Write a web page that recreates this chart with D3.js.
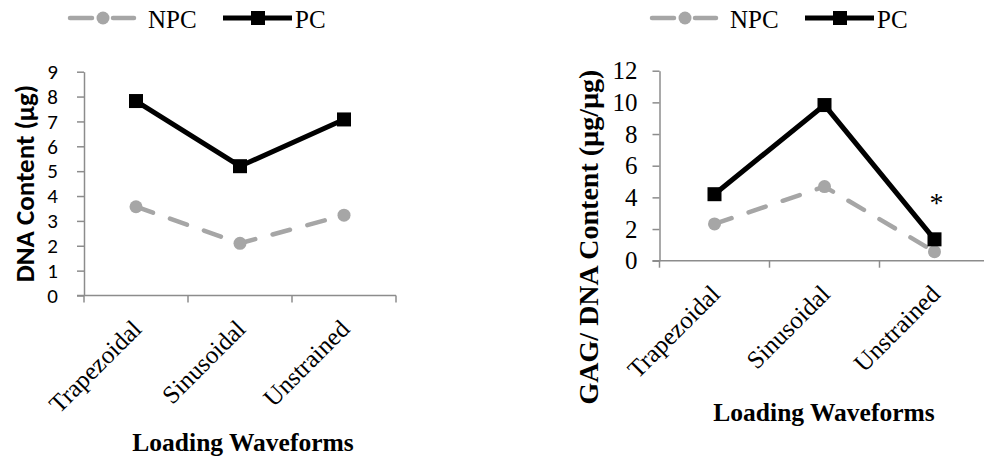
<!DOCTYPE html>
<html><head><meta charset="utf-8">
<script src="https://cdn.jsdelivr.net/npm/d3@7"></script>
<style>body{margin:0;background:#fff}svg{display:block}
.serif{font-family:"Liberation Serif","Times New Roman",Times,"DejaVu Serif",serif}
.sans{font-family:Carlito,Lato,"Open Sans",sans-serif}
</style>
</head><body>
<svg id="c" width="984" height="459"></svg>
<script>
const categories = ["Trapezoidal", "Sinusoidal", "Unstrained"];
const seriesNames = ["NPC", "PC"];
const dnaNPC = [3.57, 2.1, 3.23];
const dnaPC = [7.82, 5.2, 7.08];
const gagNPC = [2.32, 4.68, 0.57];
const gagPC = [4.2, 9.83, 1.35];
const dnaTicks = [0,1,2,3,4,5,6,7,8,9];
const gagTicks = [0,2,4,6,8,10,12];
const sigMarks = [null, null, "*"];

const svg = d3.select("#c");
const AX = "#8c8c8c", GRAY = "#a6a6a6";

function panel(o) {
  const g = svg.append("g");
  const x = d3.scaleBand().domain(categories).range([o.x0, o.x1]).padding(0);
  const y = d3.scaleLinear().domain([0, o.ymax]).range([o.yb, o.yt]);
  const ya = g.append("g").attr("transform", `translate(${o.x0},0)`)
    .call(d3.axisLeft(y).tickValues(o.ticks).tickSize(7).tickSizeOuter(0).tickPadding(o.tickPad));
  ya.attr("font-family", null).attr("font-size", null);
  ya.select(".domain").attr("stroke", AX).attr("stroke-width", 1.5);
  ya.selectAll(".tick line").attr("stroke", AX).attr("stroke-width", 1.5);
  ya.selectAll(".tick text").attr("class", o.tickCls).style("font-size", o.tickSize + "px").attr("fill", "#000");
  g.append("line").attr("x1", o.x0 - 7).attr("x2", o.x1).attr("y1", o.yb).attr("y2", o.yb)
    .attr("stroke", AX).attr("stroke-width", 1.5);
  const bounds = categories.map(c => x(c)).concat([x(categories[categories.length-1]) + x.bandwidth()]);
  g.selectAll(".xt").data(bounds).enter().append("line")
    .attr("x1", d => d).attr("x2", d => d).attr("y1", o.yb).attr("y2", o.yb + 7)
    .attr("stroke", AX).attr("stroke-width", 1.5);
  g.selectAll(".xl").data(categories).enter().append("text").attr("class", "serif")
    .attr("transform", d => `translate(${x(d) + x.bandwidth()/2 + 7},${o.yb + 35}) rotate(-45)`)
    .attr("text-anchor", "end").style("font-size", "25px").text(d => d);
  g.append("text").attr("class", "serif").attr("x", o.xtX).attr("y", o.xtY).attr("text-anchor", "middle")
    .style("font-weight", "bold").style("font-size", "25.5px").text("Loading Waveforms");
  g.append("text").attr("class", o.ytCls).attr("transform", `translate(${o.ytX},${o.ytY}) rotate(-90)`).attr("text-anchor", "middle")
    .style("font-weight", "bold").style("font-size", o.ytSize + "px").text(o.ytitle);
  const cx = c => x(c) + x.bandwidth()/2;
  const line = d3.line().x((d,i) => cx(categories[i])).y(d => y(d));
  g.append("path").datum(o.npc).attr("d", line).attr("fill", "none").attr("stroke", GRAY)
    .attr("stroke-width", 4.5).attr("stroke-dasharray", "18,18").attr("stroke-linecap", "round");
  g.selectAll(".np").data(o.npc).enter().append("circle")
    .attr("cx", (d,i) => cx(categories[i])).attr("cy", d => y(d)).attr("r", 6.5).attr("fill", GRAY);
  g.append("path").datum(o.pc).attr("d", line).attr("fill", "none").attr("stroke", "#000")
    .attr("stroke-width", 5).attr("stroke-linejoin", "miter");
  g.selectAll(".pp").data(o.pc).enter().append("rect")
    .attr("x", (d,i) => cx(categories[i]) - 7).attr("y", d => y(d) - 7).attr("width", 14).attr("height", 14).attr("fill", "#000");
  if (o.sig) {
    o.sig.forEach((s, i) => {
      if (!s) return;
      g.append("text").attr("class", "serif").attr("x", cx(categories[i]) + 2).attr("y", y(o.pc[i]) - 27)
        .attr("text-anchor", "middle").style("font-size", "28px").text(s);
    });
  }
  const L = g.append("g");
  const ly = 18;
  L.append("line").attr("x1", o.lx).attr("x2", o.lx + 22).attr("y1", ly).attr("y2", ly).attr("stroke", GRAY).attr("stroke-width", 4.5).attr("stroke-linecap", "round");
  L.append("line").attr("x1", o.lx + 43).attr("x2", o.lx + 64).attr("y1", ly).attr("y2", ly).attr("stroke", GRAY).attr("stroke-width", 4.5).attr("stroke-linecap", "round");
  L.append("circle").attr("cx", o.lx + 33).attr("cy", ly).attr("r", 6.5).attr("fill", GRAY);
  L.append("text").attr("class", "serif").attr("x", o.lx + 78).attr("y", ly + 10).style("font-size", "25px").text(seriesNames[0]);
  L.append("line").attr("x1", o.lx + 153).attr("x2", o.lx + 222).attr("y1", ly).attr("y2", ly).attr("stroke", "#000").attr("stroke-width", 5);
  L.append("rect").attr("x", o.lx + 181).attr("y", ly - 7).attr("width", 14).attr("height", 14).attr("fill", "#000");
  L.append("text").attr("class", "serif").attr("x", o.lx + 225).attr("y", ly + 10).style("font-size", "25px").text(seriesNames[1]);
}

panel({x0: 84, x1: 396, yb: 295.5, yt: 71.7, ymax: 9, ticks: dnaTicks, tickPad: 19,
  tickCls: "sans", tickSize: 21, npc: dnaNPC, pc: dnaPC, xtX: 243, xtY: 451,
  ytX: 34, ytY: 183.5, ytCls: "sans", ytSize: 27, ytitle: "DNA Content (µg)", lx: 70});
panel({x0: 659.5, x1: 989.5, yb: 260.7, yt: 70.7, ymax: 12, ticks: gagTicks, tickPad: 15,
  tickCls: "serif", tickSize: 25, npc: gagNPC, pc: gagPC, sig: sigMarks, xtX: 824, xtY: 421,
  ytX: 598, ytY: 237, ytCls: "serif", ytSize: 28, ytitle: "GAG/ DNA Content (µg/µg)", lx: 652});
</script>
</body></html>
